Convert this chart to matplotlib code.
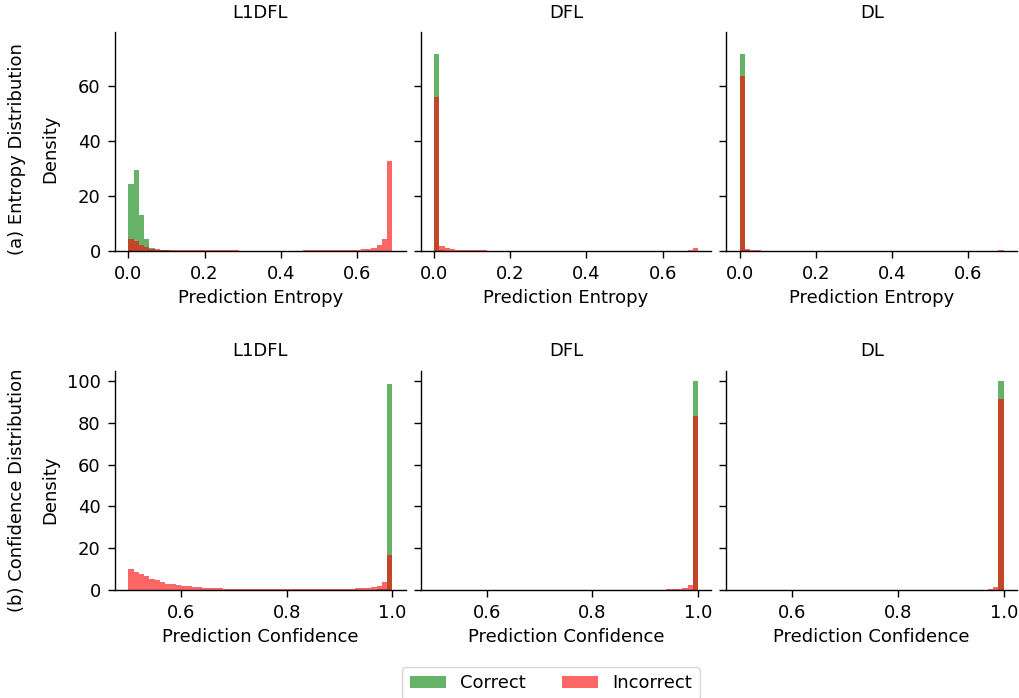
import numpy as np
import matplotlib
matplotlib.use("Agg")
import matplotlib.pyplot as plt

models = ["L1DFL", "DFL", "DL"]
row_labels = ["(a) Entropy Distribution", "(b) Confidence Distribution"]
x_labels = ["Prediction Entropy", "Prediction Confidence"]
series_names = ["Correct", "Incorrect"]

n_bins = 50
entropy_range = (0.0, float(np.log(2)))
confidence_range = (0.5, 1.0)

# ---- Entropy densities (50 bins over [0, ln 2]) ----
ent_correct_l1dfl = [24.4, 29.6, 13.2, 4.3, 1.2, 0.5, 0.3, 0.2, 0.15, 0.12,
                     0.1, 0.08, 0.06, 0.05, 0.05, 0.04, 0.03, 0.03, 0.02, 0.02,
                     0.02, 0.02, 0.01, 0.01, 0.01, 0.01, 0.01, 0.01, 0.01, 0.01,
                     0.01, 0.01, 0.01, 0.01, 0.01, 0.01, 0.01, 0.01, 0.01, 0.01,
                     0.01, 0.01, 0.01, 0.01, 0.01, 0.01, 0.01, 0.01, 0.02, 0.05]
ent_incorrect_l1dfl = [4.5, 3.8, 2.3, 1.35, 0.8, 0.6, 0.5, 0.45, 0.4, 0.35,
                       0.3, 0.3, 0.28, 0.25, 0.25, 0.22, 0.2, 0.2, 0.2, 0.18,
                       0.18, 0.17, 0.17, 0.17, 0.17, 0.17, 0.17, 0.17, 0.17, 0.17,
                       0.17, 0.17, 0.17, 0.18, 0.18, 0.2, 0.2, 0.22, 0.25, 0.28,
                       0.3, 0.35, 0.4, 0.5, 0.6, 0.8, 1.2, 2.2, 4.3, 32.7]
ent_correct_dfl = [72.0, 0.3, 0.1, 0.05, 0.03, 0.02, 0.01, 0.01, 0.01, 0.01,
                   0.0, 0.0, 0.0, 0.0, 0.0, 0.0, 0.0, 0.0, 0.0, 0.0,
                   0.0, 0.0, 0.0, 0.0, 0.0, 0.0, 0.0, 0.0, 0.0, 0.0,
                   0.0, 0.0, 0.0, 0.0, 0.0, 0.0, 0.0, 0.0, 0.0, 0.0,
                   0.0, 0.0, 0.0, 0.0, 0.0, 0.0, 0.0, 0.0, 0.0, 0.0]
ent_incorrect_dfl = [56.2, 2.0, 1.2, 0.7, 0.5, 0.4, 0.3, 0.25, 0.2, 0.18,
                     0.15, 0.12, 0.1, 0.1, 0.08, 0.07, 0.06, 0.05, 0.05, 0.05,
                     0.04, 0.04, 0.04, 0.04, 0.04, 0.04, 0.04, 0.04, 0.04, 0.04,
                     0.04, 0.04, 0.04, 0.04, 0.04, 0.04, 0.04, 0.04, 0.04, 0.05,
                     0.05, 0.05, 0.06, 0.06, 0.07, 0.08, 0.1, 0.15, 0.25, 1.0]
ent_correct_dl = [72.0, 0.2, 0.08, 0.04, 0.02, 0.01, 0.01, 0.0, 0.0, 0.0,
                  0.0, 0.0, 0.0, 0.0, 0.0, 0.0, 0.0, 0.0, 0.0, 0.0,
                  0.0, 0.0, 0.0, 0.0, 0.0, 0.0, 0.0, 0.0, 0.0, 0.0,
                  0.0, 0.0, 0.0, 0.0, 0.0, 0.0, 0.0, 0.0, 0.0, 0.0,
                  0.0, 0.0, 0.0, 0.0, 0.0, 0.0, 0.0, 0.0, 0.0, 0.0]
ent_incorrect_dl = [63.8, 0.7, 0.35, 0.2, 0.12, 0.08, 0.06, 0.05, 0.04, 0.03,
                    0.03, 0.02, 0.02, 0.02, 0.02, 0.02, 0.02, 0.02, 0.02, 0.02,
                    0.02, 0.02, 0.02, 0.02, 0.02, 0.02, 0.02, 0.02, 0.02, 0.02,
                    0.02, 0.02, 0.02, 0.02, 0.02, 0.02, 0.02, 0.02, 0.02, 0.02,
                    0.02, 0.02, 0.02, 0.02, 0.02, 0.03, 0.03, 0.05, 0.08, 0.3]

# ---- Confidence densities (50 bins over [0.5, 1.0]) ----
conf_correct_l1dfl = [0.02, 0.02, 0.02, 0.02, 0.02, 0.02, 0.02, 0.02, 0.02, 0.02,
                      0.02, 0.02, 0.02, 0.02, 0.02, 0.02, 0.02, 0.02, 0.02, 0.02,
                      0.02, 0.02, 0.02, 0.02, 0.02, 0.02, 0.02, 0.02, 0.02, 0.02,
                      0.02, 0.02, 0.02, 0.02, 0.02, 0.02, 0.02, 0.02, 0.02, 0.03,
                      0.03, 0.03, 0.04, 0.05, 0.06, 0.08, 0.1, 0.15, 0.3, 98.5]
conf_incorrect_l1dfl = [9.9, 8.6, 7.5, 6.4, 5.3, 4.5, 3.7, 3.0, 2.6, 2.2,
                        1.9, 1.6, 1.35, 1.15, 1.0, 0.85, 0.75, 0.65, 0.58, 0.52,
                        0.48, 0.44, 0.4, 0.38, 0.36, 0.34, 0.32, 0.32, 0.31, 0.3,
                        0.3, 0.3, 0.3, 0.31, 0.32, 0.33, 0.35, 0.37, 0.4, 0.43,
                        0.47, 0.52, 0.58, 0.66, 0.78, 0.95, 1.2, 1.9, 3.8, 16.8]
conf_correct_dfl = [0.0, 0.0, 0.0, 0.0, 0.0, 0.0, 0.0, 0.0, 0.0, 0.0,
                    0.0, 0.0, 0.0, 0.0, 0.0, 0.0, 0.0, 0.0, 0.0, 0.0,
                    0.0, 0.0, 0.0, 0.0, 0.0, 0.0, 0.0, 0.0, 0.0, 0.0,
                    0.0, 0.0, 0.0, 0.0, 0.0, 0.0, 0.0, 0.0, 0.0, 0.0,
                    0.0, 0.0, 0.0, 0.0, 0.0, 0.01, 0.01, 0.02, 0.05, 100.0]
conf_incorrect_dfl = [0.06, 0.06, 0.05, 0.05, 0.05, 0.05, 0.05, 0.05, 0.05, 0.05,
                      0.05, 0.05, 0.05, 0.05, 0.05, 0.05, 0.05, 0.05, 0.05, 0.05,
                      0.05, 0.05, 0.05, 0.05, 0.05, 0.05, 0.05, 0.05, 0.05, 0.05,
                      0.05, 0.05, 0.05, 0.05, 0.05, 0.05, 0.06, 0.06, 0.06, 0.07,
                      0.08, 0.09, 0.1, 0.12, 0.15, 0.2, 0.35, 0.8, 2.4, 83.3]
conf_correct_dl = [0.0, 0.0, 0.0, 0.0, 0.0, 0.0, 0.0, 0.0, 0.0, 0.0,
                   0.0, 0.0, 0.0, 0.0, 0.0, 0.0, 0.0, 0.0, 0.0, 0.0,
                   0.0, 0.0, 0.0, 0.0, 0.0, 0.0, 0.0, 0.0, 0.0, 0.0,
                   0.0, 0.0, 0.0, 0.0, 0.0, 0.0, 0.0, 0.0, 0.0, 0.0,
                   0.0, 0.0, 0.0, 0.0, 0.0, 0.0, 0.0, 0.01, 0.03, 100.0]
conf_incorrect_dl = [0.02, 0.02, 0.02, 0.02, 0.02, 0.02, 0.02, 0.02, 0.02, 0.02,
                     0.02, 0.02, 0.02, 0.02, 0.02, 0.02, 0.02, 0.02, 0.02, 0.02,
                     0.02, 0.02, 0.02, 0.02, 0.02, 0.02, 0.02, 0.02, 0.02, 0.02,
                     0.02, 0.02, 0.02, 0.02, 0.02, 0.02, 0.02, 0.02, 0.02, 0.03,
                     0.03, 0.03, 0.04, 0.05, 0.06, 0.08, 0.12, 0.25, 1.3, 91.7]

entropy_data = [(ent_correct_l1dfl, ent_incorrect_l1dfl),
                (ent_correct_dfl, ent_incorrect_dfl),
                (ent_correct_dl, ent_incorrect_dl)]
confidence_data = [(conf_correct_l1dfl, conf_incorrect_l1dfl),
                   (conf_correct_dfl, conf_incorrect_dfl),
                   (conf_correct_dl, conf_incorrect_dl)]

plt.rcParams['font.family'] = ['DejaVu Sans']
plt.rcParams['font.size'] = 13
plt.rcParams['axes.linewidth'] = 1.0
for axis in ('xtick', 'ytick'):
    plt.rcParams[f'{axis}.major.size'] = 4.8
    plt.rcParams[f'{axis}.major.width'] = 1.0
    plt.rcParams[f'{axis}.major.pad'] = 5.6
    plt.rcParams[f'{axis}.labelsize'] = 13

W, H = 1019, 698
fig, axes = plt.subplots(2, 3, figsize=(W / 100, H / 100), dpi=100, sharey='row')
fig.subplots_adjust(left=0.113, right=0.998, top=0.954, bottom=0.155,
                    wspace=0.052, hspace=0.548)

rows = [(entropy_data, entropy_range, [0.0, 0.2, 0.4, 0.6]),
        (confidence_data, confidence_range, [0.6, 0.8, 1.0])]
label_y_px = [149, 490]

for r, (data, rng, xticks) in enumerate(rows):
    edges = np.linspace(rng[0], rng[1], n_bins + 1)
    for c, model in enumerate(models):
        ax = axes[r, c]
        correct, incorrect = data[c]
        ax.hist(edges[:-1], bins=edges, weights=correct, color='green',
                alpha=0.6, label=series_names[0])
        ax.hist(edges[:-1], bins=edges, weights=incorrect, color='red',
                alpha=0.6, label=series_names[1])
        ax.set_title(model, fontsize=13, pad=10.5)
        ax.set_xlabel(x_labels[r], fontsize=13)
        ax.set_xticks(xticks)
        ax.spines['top'].set_visible(False)
        ax.spines['right'].set_visible(False)
        if c == 0:
            ax.set_ylabel("Density", fontsize=13, va='center')
            pos = ax.get_position()
            yf = 1 - label_y_px[r] / H
            ax.yaxis.set_label_coords((50 / W - pos.x0) / pos.width,
                                      (yf - pos.y0) / pos.height)
            fig.text(17 / W, yf, row_labels[r], rotation=90,
                     ha='center', va='center', fontsize=13)

axes[0, 0].set_ylim(0, 79.8)
axes[0, 0].set_yticks([0, 20, 40, 60])
axes[1, 0].set_ylim(0, 105)
axes[1, 0].set_yticks([0, 20, 40, 60, 80, 100])

handles, labels = axes[0, 0].get_legend_handles_labels()
fig.legend(handles, labels, loc='upper center', bbox_to_anchor=(551 / W, 1 - 658 / H),
           ncol=2, fontsize=13, frameon=True, columnspacing=2.0)

fig.savefig("out.png", dpi=100)
